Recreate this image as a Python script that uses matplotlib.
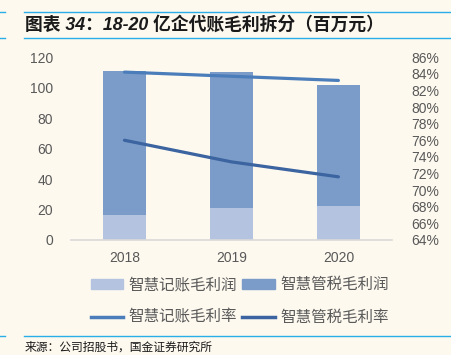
import matplotlib.pyplot as plt
import matplotlib.patches as mpatches
from matplotlib.lines import Line2D
import numpy as np

plt.rcParams['font.family'] = ['Liberation Sans', 'Noto Sans CJK SC', 'DejaVu Sans']

years = ['2018', '2019', '2020']
jz_profit = [16.5, 21, 22]          # 智慧记账毛利润
gs_profit = [94.5, 89, 80]          # 智慧管税毛利润
jz_margin = [84.2, 83.7, 83.2]      # 智慧记账毛利率 %
gs_margin = [76.0, 73.4, 71.6]      # 智慧管税毛利率 %

bg = '#fdf9ef'
c_light = '#b4c4e0'
c_bar = '#7b9cc8'
c_line1 = '#4a7dba'
c_line2 = '#3b64a0'
c_text = '#595959'
c_rule = '#29aee8'

fig = plt.figure(figsize=(4.52, 3.55), dpi=100, facecolor=bg)
ax = fig.add_axes([0.157, 0.324, 0.71, 0.515], facecolor=bg)
ax2 = ax.twinx()

x = np.arange(len(years))
ax.bar(x, jz_profit, width=0.4, color=c_light, zorder=2)
ax.bar(x, gs_profit, width=0.4, bottom=jz_profit, color=c_bar, zorder=2)
ax.set_ylim(0, 120)
ax.set_xlim(-0.5, 2.5)
ax.set_yticks(range(0, 121, 20))
ax.set_xticks(x)
ax.set_xticklabels(years)

ax2.plot(x, jz_margin, color=c_line1, lw=2.3, solid_capstyle='round')
ax2.plot(x, gs_margin, color=c_line2, lw=2.3, solid_capstyle='round')
ax2.set_ylim(64, 86)
ax2.set_yticks(range(64, 87, 2))
ax2.set_yticklabels([f'{v}%' for v in range(64, 87, 2)])

for a in (ax, ax2):
    for s in a.spines.values():
        s.set_visible(False)
    a.tick_params(length=0, colors=c_text, labelsize=10)
ax.tick_params(axis='y', pad=13)
ax.tick_params(axis='x', pad=8)
ax2.tick_params(axis='y', pad=14)
ax.spines['bottom'].set_visible(True)
ax.spines['bottom'].set_color('#d9d9d9')
ax.spines['bottom'].set_linewidth(1.2)

handles = [
    mpatches.Patch(color=c_light, label='智慧记账毛利润'),
    Line2D([], [], color=c_line1, lw=2.5, label='智慧记账毛利率'),
    mpatches.Patch(color=c_bar, label='智慧管税毛利润'),
    Line2D([], [], color=c_line2, lw=2.5, label='智慧管税毛利率'),
]
leg = fig.legend(handles=handles, ncol=2, loc='center', bbox_to_anchor=(0.53, 0.152),
                 frameon=False, handlelength=2.1, handleheight=0.6, handletextpad=0.35,
                 columnspacing=0.3, labelspacing=1.0,
                 prop={'family': ['Noto Sans CJK SC'], 'size': 11.2})
for t in leg.get_texts():
    t.set_color(c_text)

# title and source rules
for yy in (12, 38, 336):
    fig.add_artist(Line2D([0, 0.012], [1 - yy / 355] * 2, color=c_rule, lw=1))
    fig.add_artist(Line2D([0.053, 0.996], [1 - yy / 355] * 2, color=c_rule, lw=1))
fig.text(0.055, 1 - 25 / 355, '图表 34：18-20 亿企代账毛利拆分（百万元）', fontsize=12.8,
         fontweight='bold', style='italic', va='center', color='#1a1a1a',
         family=['Liberation Sans', 'Noto Sans CJK SC'])

fig.text(0.055, 1 - 347 / 355, '来源：公司招股书，国金证券研究所', fontsize=8.5,
         va='center', color='#1a1a1a', family=['Noto Sans CJK SC'])

fig.savefig('out.png', dpi=100, facecolor=bg)
